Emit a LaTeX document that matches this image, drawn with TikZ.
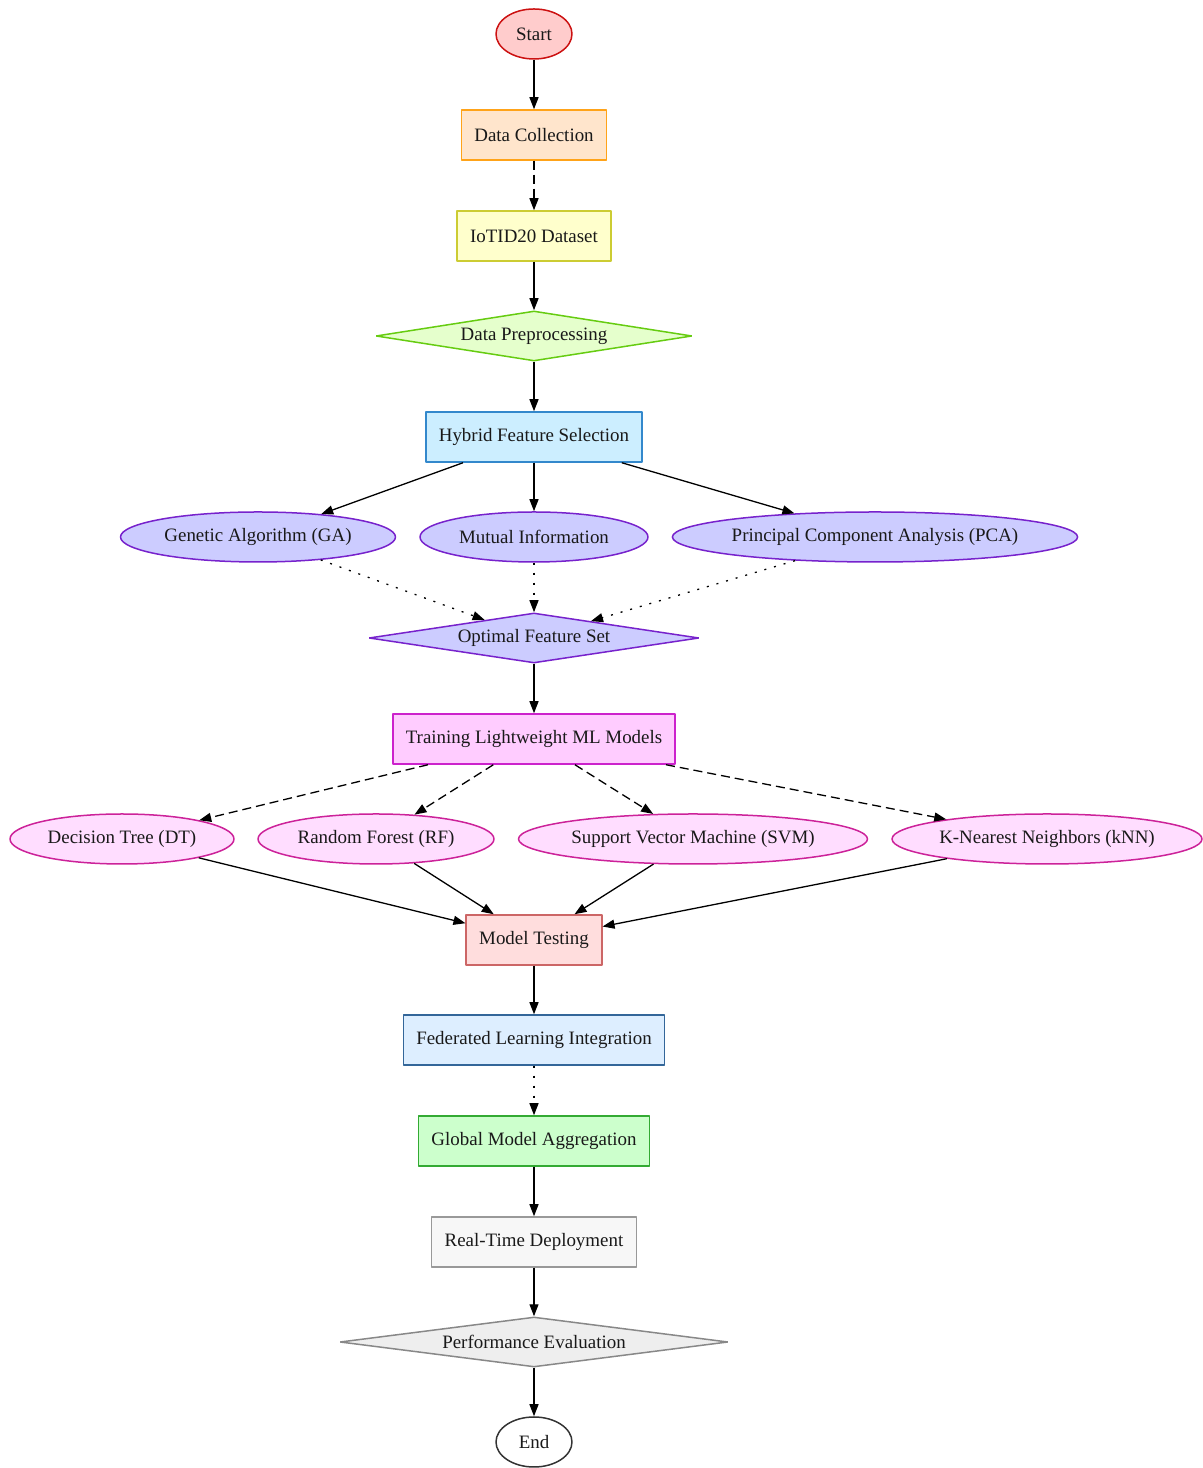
\documentclass[tikz,border=0pt]{standalone}
\usepackage{fontspec}
\setmainfont{Liberation Serif}
\usepackage{tikz}
\usetikzlibrary{arrows.meta}
\usetikzlibrary{shapes}

\definecolor{startfill}{HTML}{FFCCCC}
\definecolor{startline}{HTML}{CC1111}
\definecolor{collfill}{HTML}{FFE5CC}
\definecolor{collline}{HTML}{FFA319}
\definecolor{datafill}{HTML}{FFFFCC}
\definecolor{dataline}{HTML}{CCCC33}
\definecolor{prepfill}{HTML}{E5FFCC}
\definecolor{prepline}{HTML}{66CC11}
\definecolor{hybfill}{HTML}{CCEEFF}
\definecolor{hybline}{HTML}{3388CC}
\definecolor{featfill}{HTML}{CCCCFF}
\definecolor{featline}{HTML}{7722CC}
\definecolor{trainfill}{HTML}{FFCCFF}
\definecolor{trainline}{HTML}{CC22CC}
\definecolor{modfill}{HTML}{FFDDFF}
\definecolor{modline}{HTML}{CC2299}
\definecolor{testfill}{HTML}{FFDDDD}
\definecolor{testline}{HTML}{CC6666}
\definecolor{fedfill}{HTML}{DDEEFF}
\definecolor{fedline}{HTML}{336699}
\definecolor{aggfill}{HTML}{CCFFCC}
\definecolor{aggline}{HTML}{33AA33}
\definecolor{depfill}{HTML}{F7F7F7}
\definecolor{depline}{HTML}{999999}
\definecolor{evalfill}{HTML}{EEEEEE}
\definecolor{evalline}{HTML}{888888}
\definecolor{endline}{HTML}{333333}

\begin{document}
\begin{tikzpicture}[>={Triangle[length=12bp,width=9bp]},line join=bevel,
  every node/.style={font=\fontsize{19}{22}\selectfont,text=black!90},
  boxnode/.style={draw,rectangle,line width=1.5bp,inner xsep=13bp,minimum height=50bp},
  ovalnode/.style={draw,ellipse,line width=1.5bp,inner xsep=0bp,minimum height=50bp},
  termnode/.style={draw,ellipse,line width=1.5bp,minimum width=76bp,minimum height=50bp},
  decnode/.style={draw,diamond,line width=1.5bp,inner sep=0bp,aspect=6.5,minimum height=50bp},
  edge/.style={black,->,line width=1.3bp},
  dashedge/.style={edge,dash pattern=on 9bp off 5bp},
  dotedge/.style={edge,dash pattern=on 2bp off 8bp},
]
\useasboundingbox (0bp,0bp) rectangle (1203bp,1468bp);
%%
\node (start) at (534bp,1434bp) [termnode,fill=startfill,draw=startline] {Start};
  \node (collect) at (534bp,1333bp) [boxnode,fill=collfill,draw=collline] {Data Collection};
  \node (dataset) at (534bp,1232bp) [boxnode,fill=datafill,draw=dataline] {IoTID20 Dataset};
  \node (preproc) at (534bp,1132bp) [decnode,fill=prepfill,draw=prepline,minimum width=316bp] {Data Preprocessing};
  \node (hybrid) at (534bp,1031bp) [boxnode,fill=hybfill,draw=hybline] {Hybrid Feature Selection};
  \node (ga) at (258bp,931bp) [ovalnode,fill=featfill,draw=featline,minimum width=275bp] {Genetic Algorithm (GA)};
  \node (mi) at (534bp,931bp) [ovalnode,fill=featfill,draw=featline,minimum width=228bp] {Mutual Information};
  \node (pca) at (875bp,931bp) [ovalnode,fill=featfill,draw=featline,minimum width=404bp] {Principal Component Analysis (PCA)};
  \node (optset) at (534bp,830bp) [decnode,fill=featfill,draw=featline,minimum width=330bp] {Optimal Feature Set};
  \node (train) at (534bp,729bp) [boxnode,fill=trainfill,draw=trainline] {Training Lightweight ML Models};
  \node (dt) at (122bp,629bp) [ovalnode,fill=modfill,draw=modline,minimum width=224bp] {Decision Tree (DT)};
  \node (rf) at (376bp,629bp) [ovalnode,fill=modfill,draw=modline,minimum width=236bp] {Random Forest (RF)};
  \node (svm) at (693bp,629bp) [ovalnode,fill=modfill,draw=modline,minimum width=349bp] {Support Vector Machine (SVM)};
  \node (knn) at (1047bp,629bp) [ovalnode,fill=modfill,draw=modline,minimum width=310bp] {K-Nearest Neighbors (kNN)};
  \node (testing) at (534bp,528bp) [boxnode,fill=testfill,draw=testline] {Model Testing};
  \node (fedlearn) at (534bp,428bp) [boxnode,fill=fedfill,draw=fedline] {Federated Learning Integration};
  \node (aggr) at (534bp,327bp) [boxnode,fill=aggfill,draw=aggline] {Global Model Aggregation};
  \node (deploy) at (534bp,226bp) [boxnode,fill=depfill,draw=depline] {Real-Time Deployment};
  \node (perfeval) at (534bp,126bp) [decnode,fill=evalfill,draw=evalline,minimum width=388bp] {Performance Evaluation};
  \node (finish) at (534bp,26bp) [termnode,fill=white,draw=endline] {End};
  \draw [edge] (start) -- (collect);
  \draw [dashedge] (collect) -- (dataset);
  \draw [edge] (dataset) -- (preproc);
  \draw [edge] (preproc) -- (hybrid);
  \draw [edge] (hybrid) -- (ga);
  \draw [edge] (hybrid) -- (mi);
  \draw [edge] (hybrid) -- (pca);
  \draw [dotedge] (ga) -- (optset);
  \draw [dotedge] (mi) -- (optset);
  \draw [dotedge] (pca) -- (optset);
  \draw [edge] (optset) -- (train);
  \draw [dashedge] (train) -- (dt);
  \draw [dashedge] (train) -- (rf);
  \draw [dashedge] (train) -- (svm);
  \draw [dashedge] (train) -- (knn);
  \draw [edge] (dt) -- (testing);
  \draw [edge] (rf) -- (testing);
  \draw [edge] (svm) -- (testing);
  \draw [edge] (knn) -- (testing);
  \draw [edge] (testing) -- (fedlearn);
  \draw [dotedge] (fedlearn) -- (aggr);
  \draw [edge] (aggr) -- (deploy);
  \draw [edge] (deploy) -- (perfeval);
  \draw [edge] (perfeval) -- (finish);
%
\end{tikzpicture}
\end{document}
